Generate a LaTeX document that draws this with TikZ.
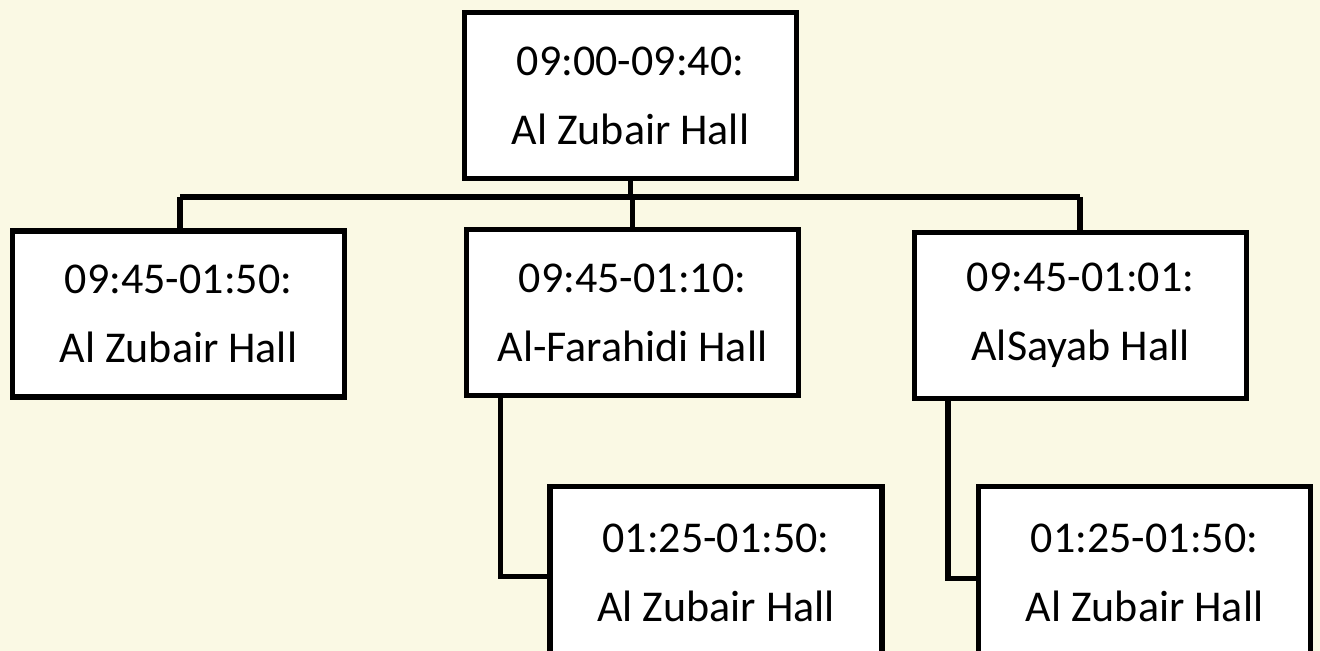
\documentclass[tikz,border=0pt]{standalone}
\usepackage{fontspec}
\setmainfont{Carlito}
\definecolor{bgc}{RGB}{250,249,228}
\begin{document}
\begin{tikzpicture}[x=0.5pt,y=-0.5pt,
  box/.style={draw=black, fill=white, line width=2.6pt, minimum width=166pt, minimum height=83pt,
    inner sep=0pt, align=center, font=\fontsize{22}{34.5}\selectfont},
  conn/.style={draw=black, line width=2.6pt}]
\fill[bgc] (0,0) rectangle (1320,651);
\useasboundingbox (0,0) rectangle (1320,651);
\clip (0,0) rectangle (1320,651);
\node[box] (top) at (630.5,95.5) {09:00-09:40:\\Al Zubair Hall};
\node[box] (left) at (178.5,314) {09:45-01:50:\\Al Zubair Hall};
\node[box] (mid) at (632.5,312.5) {09:45-01:10:\\Al-Farahidi Hall};
\node[box] (right) at (1080.5,315.5) {09:45-01:01:\\AlSayab Hall};
\node[box, minimum height=86pt] (bmid) at (716,572.5) {01:25-01:50:\\Al Zubair Hall};
\node[box, minimum height=86pt] (bright) at (1144.5,572.5) {01:25-01:50:\\Al Zubair Hall};
\coordinate (busL) at (180,197);
\coordinate (busR) at (1080,197);
\draw[conn] (top.south) -- (top.south |- busL);
\draw[conn] (busL) -- (busR);
\draw[conn] (busL) -- (busL |- left.north);
\draw[conn] (mid.north) -- (mid.north |- busL);
\draw[conn] (busR) -- (busR |- right.north);
\coordinate (mc) at (500.5,396);
\coordinate (rc) at (948,398);
\draw[conn] (mc) |- ([yshift=-2]bmid.west);
\draw[conn] (rc) |- ([yshift=-3]bright.west);
\end{tikzpicture}
\end{document}
